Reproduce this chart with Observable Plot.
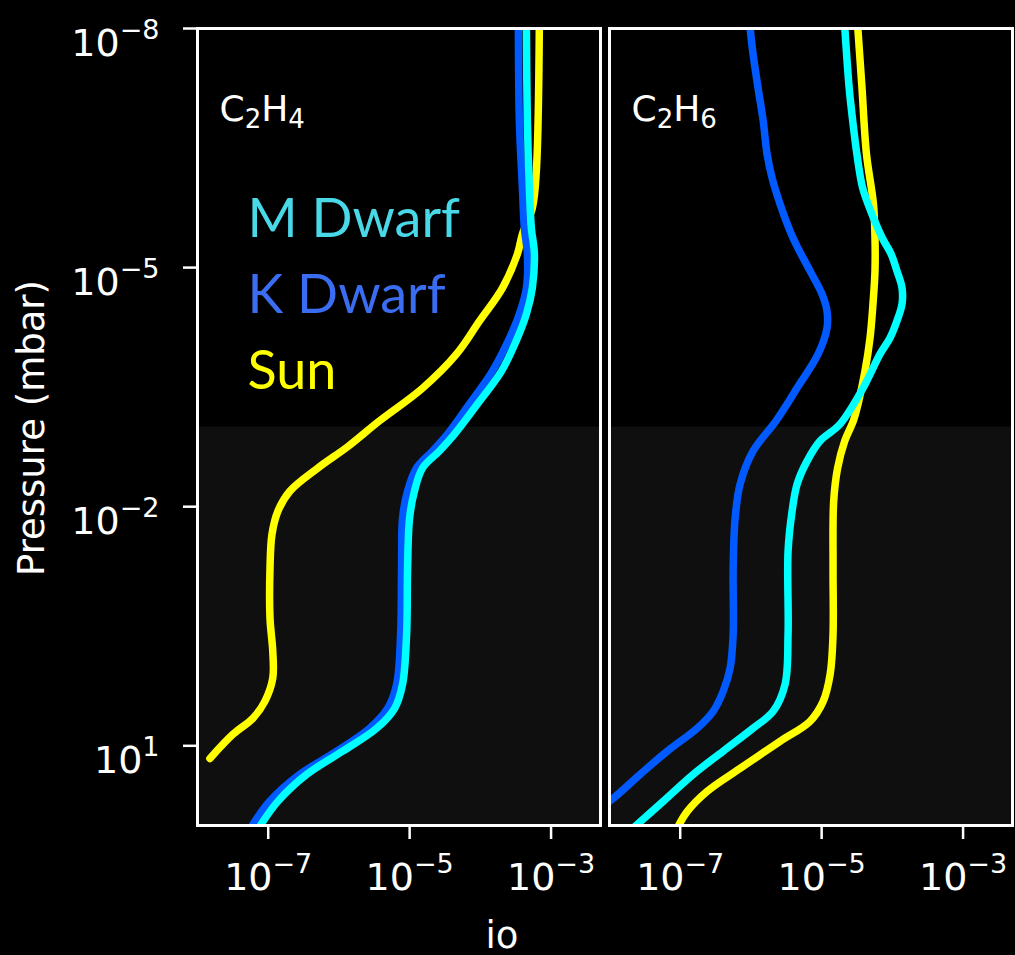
<!DOCTYPE html>
<html>
<head>
<meta charset="utf-8">
<script src="https://cdn.jsdelivr.net/npm/d3@7"></script>
<script src="https://cdn.jsdelivr.net/npm/@observablehq/plot@0.6"></script>
<style>
  html, body { margin: 0; padding: 0; background: #000; }
  #chart { width: 1015px; height: 955px; }
</style>
</head>
<body>
<div id="chart"></div>
<script>
// Panels (species) and stellar hosts
const panels = ["C2H4", "C2H6"];
const stars = ["M Dwarf", "K Dwarf", "Sun"];
const lineColors = ["#00ffff", "#005aff", "#ffff00"];
const legendColors = ["#48d8e8", "#3a6df2", "#ffff00"];

// Axis domains and ticks
const ratioDomain = [1e-8, 5e-3];
const pressureDomain = [1e-8, 1e2];
const ratioTicks = [1e-7, 1e-5, 1e-3];
const pressureTicks = [1e-8, 1e-5, 1e-2, 1e1];
// Lower-atmosphere band, mbar
const lowerBand = [1e-3, 1e2];

// C2H4 profiles: pressure (mbar) and mixing ratio
const c2h4SunP = [1e-8, 6.12e-7, 1.79e-6, 3.80e-6, 6.78e-6, 1.81e-5, 4.70e-5, 1.22e-4, 3.26e-4, 8.45e-4, 1.75e-3, 3.29e-3, 6.40e-3, 1.14e-2, 2.22e-2, 5.92e-2, 0.251, 0.652, 1.42, 2.77, 4.52, 7.18, 14.4];
const c2h4SunX = [6.82e-4, 6.19e-4, 5.43e-4, 3.93e-4, 3.34e-4, 2.05e-4, 9.7e-5, 4.59e-5, 1.52e-5, 3.7e-6, 1.35e-6, 5.0e-7, 2.02e-7, 1.37e-7, 1.13e-7, 1.06e-7, 1.06e-7, 1.16e-7, 1.16e-7, 8.97e-8, 6.07e-8, 3.17e-8, 1.5e-8];

const c2h4KP = [1e-8, 1.44e-7, 1.0e-6, 3.18e-6, 6.75e-6, 1.80e-5, 3.82e-5, 7.66e-5, 1.99e-4, 5.15e-4, 1.23e-3, 2.00e-3, 3.28e-3, 6.37e-3, 1.39e-2, 5.90e-2, 0.398, 1.69, 3.38, 6.03, 11.7, 22.8, 49.8, 102];
const c2h4KX = [3.45e-4, 3.56e-4, 3.93e-4, 4.19e-4, 4.62e-4, 4.48e-4, 3.56e-4, 2.58e-4, 1.48e-4, 7.0e-5, 3.44e-5, 2.11e-5, 1.25e-5, 9.35e-6, 7.94e-6, 7.69e-6, 7.45e-6, 6.55e-6, 4.89e-6, 2.72e-6, 9.31e-7, 2.80e-7, 1.05e-7, 5.87e-8];

const c2h4MP = c2h4KP;
const c2h4MX = [4.48e-4, 4.62e-4, 4.93e-4, 5.26e-4, 5.81e-4, 5.43e-4, 4.48e-4, 3.34e-4, 1.99e-4, 9.1e-5, 4.31e-5, 2.64e-5, 1.52e-5, 1.17e-5, 9.98e-6, 9.35e-6, 9.06e-6, 7.94e-6, 6.14e-6, 3.42e-6, 1.13e-6, 3.52e-7, 1.37e-7, 7.62e-8];

// C2H6 profiles
const c2h6SunP = [1e-8, 5.56e-8, 3.74e-7, 1.59e-6, 4.25e-6, 1.10e-5, 2.86e-5, 7.66e-5, 1.99e-4, 5.15e-4, 8.43e-4, 1.50e-3, 3.29e-3, 8.53e-3, 5.91e-2, 0.398, 1.26, 2.77, 4.93, 8.79, 19.2, 37.3, 66.5, 102];
const c2h6SunX = [3.25e-5, 3.72e-5, 4.3e-5, 5.4e-5, 5.68e-5, 5.68e-5, 5.32e-5, 4.83e-5, 4.10e-5, 3.27e-5, 2.80e-5, 2.12e-5, 1.68e-5, 1.48e-5, 1.45e-5, 1.45e-5, 1.32e-5, 1.05e-5, 6.85e-6, 2.58e-6, 7.03e-7, 2.40e-7, 1.26e-7, 9.38e-8];

const c2h6KP = [1e-8, 2.08e-8, 5.56e-8, 1.44e-7, 3.74e-7, 7.50e-7, 1.59e-6, 4.25e-6, 1.10e-5, 2.14e-5, 3.51e-5, 5.73e-5, 1.22e-4, 3.25e-4, 8.43e-4, 2.01e-3, 5.21e-3, 1.39e-2, 5.91e-2, 0.398, 1.06, 2.07, 3.69, 6.03, 11.7, 22.8, 45.6, 66.4];
const c2h6KX = [9.75e-7, 1.07e-6, 1.26e-6, 1.49e-6, 1.69e-6, 1.99e-6, 2.58e-6, 3.94e-6, 6.85e-6, 1.01e-5, 1.19e-5, 1.19e-5, 8.89e-6, 4.49e-6, 2.25e-6, 1.07e-6, 7.03e-7, 5.98e-7, 5.61e-7, 5.61e-7, 5.08e-7, 4.05e-7, 2.92e-7, 1.74e-7, 6.55e-8, 2.72e-8, 1.13e-8, 6.3e-9];

const c2h6MP = [1e-8, 5.56e-8, 1.44e-7, 3.74e-7, 1.0e-6, 2.0e-6, 4.25e-6, 6.75e-6, 1.10e-5, 1.80e-5, 2.86e-5, 4.68e-5, 7.66e-5, 1.22e-4, 3.25e-4, 9.2e-4, 1.50e-3, 2.68e-3, 5.21e-3, 1.14e-2, 3.61e-2, 0.398, 1.69, 3.69, 6.03, 11.7, 22.8, 49.8, 102];
const c2h6MX = [2.13e-5, 2.45e-5, 2.75e-5, 3.15e-5, 3.8e-5, 5.0e-5, 7.2e-5, 9.6e-5, 1.16e-4, 1.37e-4, 1.37e-4, 1.16e-4, 9.25e-5, 6.68e-5, 3.85e-5, 1.82e-5, 9.48e-6, 6.22e-6, 4.50e-6, 3.82e-6, 3.35e-6, 3.35e-6, 3.04e-6, 2.06e-6, 1.07e-6, 4.05e-7, 1.53e-7, 5.75e-8, 2.31e-8];

// Long-format table, drawn Sun first so the dwarf profiles sit on top
const series = [
  {panel: panels[0], star: "Sun", p: c2h4SunP, x: c2h4SunX},
  {panel: panels[0], star: "K Dwarf", p: c2h4KP, x: c2h4KX},
  {panel: panels[0], star: "M Dwarf", p: c2h4MP, x: c2h4MX},
  {panel: panels[1], star: "Sun", p: c2h6SunP, x: c2h6SunX},
  {panel: panels[1], star: "K Dwarf", p: c2h6KP, x: c2h6KX},
  {panel: panels[1], star: "M Dwarf", p: c2h6MP, x: c2h6MX}
];
const rows = series.flatMap(s => s.p.map((p, i) => ({panel: s.panel, star: s.star, pressure: p, ratio: s.x[i]})));

const powerFormat = d => "10^" + Math.round(Math.log10(d));

const chart = Plot.plot({
  width: 1015,
  height: 955,
  marginLeft: 197,
  marginRight: 3,
  marginTop: 28,
  marginBottom: 130,
  style: {background: "black", color: "white", fontFamily: "'DejaVu Sans'", fontSize: "38px", overflow: "visible"},
  fx: {domain: panels, paddingInner: 0.022, paddingOuter: 0, axis: null, label: null},
  x: {type: "log", domain: ratioDomain, ticks: ratioTicks, tickFormat: powerFormat, tickSize: 14, tickPadding: 24, label: null},
  y: {type: "log", domain: pressureDomain, reverse: true, ticks: pressureTicks, tickFormat: powerFormat, tickSize: 14, tickPadding: 24, label: null},
  color: {domain: stars, range: lineColors},
  marks: [
    Plot.rect([lowerBand], {x1: ratioDomain[0], x2: ratioDomain[1], y1: d => d[0], y2: d => d[1], fill: "#0f0f0f"}),
    Plot.line(rows, {fx: "panel", x: "ratio", y: "pressure", z: "star", stroke: "star", strokeWidth: 7.5, curve: "catmull-rom", clip: true, strokeLinejoin: "round"}),
    Plot.frame({stroke: "white", strokeWidth: 3}),
    Plot.text(panels, {fx: d => d, text: d => d, frameAnchor: "top-left", dx: 22, dy: 67, fill: "white", fontSize: 36, fontFamily: "'DejaVu Sans'", textAnchor: "start"}),
    ...stars.map((s, i) => Plot.text([s], {fx: () => panels[0], text: d => d, frameAnchor: "top-left", dx: 50, dy: 170 + 76 * i, fill: legendColors[i], fontSize: 54, fontFamily: "Lato", textAnchor: "start"}))
  ]
});

document.getElementById("chart").appendChild(chart);

const svgNS = "http://www.w3.org/2000/svg";
function tspan(parent, str, attrs) {
  const t = document.createElementNS(svgNS, "tspan");
  for (const k in attrs) t.setAttribute(k, attrs[k]);
  t.textContent = str;
  parent.appendChild(t);
}

chart.querySelectorAll("text").forEach(t => {
  const s = t.textContent.trim();
  // Tick labels as powers of ten with raised exponents
  const m = /^10\^(-?\d+)$/.exec(s);
  if (m) {
    t.textContent = "10";
    tspan(t, m[1].replace("-", "\u2212"), {"font-size": "27px", dy: "-17"});
    t.setAttribute("fill", "white");
    return;
  }
  // Chemical formulae with subscripted counts
  if (panels.includes(s)) {
    t.textContent = "";
    const parts = s.match(/[A-Z][a-z]?|\d+/g);
    let low = false;
    parts.forEach(p => {
      const isNum = /^\d+$/.test(p);
      const attrs = {};
      if (isNum && !low) { attrs.dy = "7"; low = true; }
      else if (!isNum && low) { attrs.dy = "-7"; low = false; }
      if (isNum) attrs["font-size"] = "26px";
      tspan(t, p, attrs);
    });
  }
});
const yLabels = chart.querySelector('g[aria-label="y-axis tick label"]');
if (yLabels) yLabels.querySelectorAll("text").forEach(t => t.setAttribute("dy", "0.4em"));
chart.querySelectorAll('g[aria-label="x-axis tick"], g[aria-label="y-axis tick"]').forEach(g => {
  g.setAttribute("stroke-width", "2.5");
  g.setAttribute("stroke", "white");
});

// Axis titles
const svg = d3.select(chart);
svg.append("text")
  .attr("transform", "translate(44,428) rotate(-90)")
  .attr("text-anchor", "middle")
  .attr("fill", "white")
  .attr("font-family", "'DejaVu Sans'")
  .attr("font-size", 37)
  .text("Pressure (mbar)");
svg.append("text")
  .attr("x", 502)
  .attr("y", 948)
  .attr("text-anchor", "middle")
  .attr("fill", "white")
  .attr("font-family", "'DejaVu Sans'")
  .attr("font-size", 37)
  .text("io");
</script>
</body>
</html>
